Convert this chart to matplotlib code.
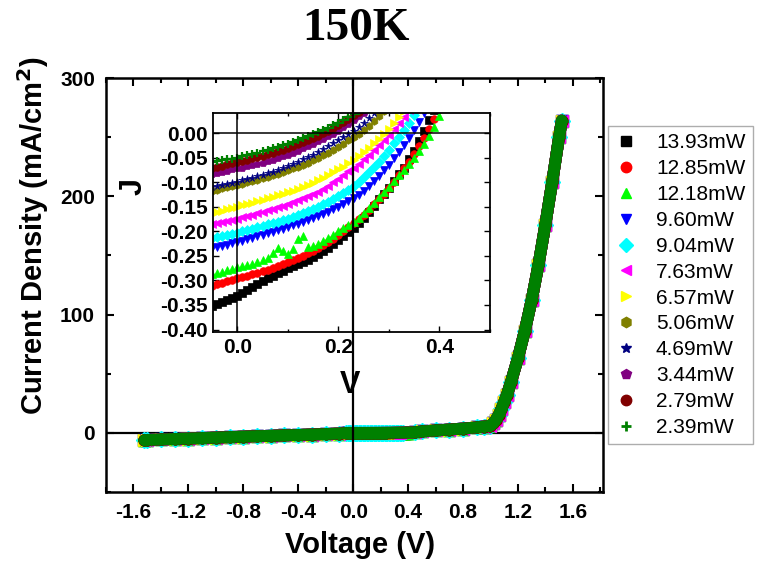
import matplotlib
matplotlib.use("Agg")
import matplotlib.pyplot as plt
from matplotlib.ticker import MultipleLocator, FormatStrFormatter
from matplotlib.lines import Line2D

plt.rcParams['font.family'] = ['Liberation Sans', 'DejaVu Sans']

# ---- series description ----
labels = ["13.93mW", "12.85mW", "12.18mW", "9.60mW", "9.04mW", "7.63mW",
          "6.57mW", "5.06mW", "4.69mW", "3.44mW", "2.79mW", "2.39mW"]
colors = ["#000000", "#FF0000", "#00FF00", "#0000FF", "#00FFFF", "#FF00FF",
          "#FFFF00", "#808000", "#000080", "#800080", "#800000", "#008000"]
markers = ["s", "o", "^", "v", "D", "<", ">", "h", "*", "p", "o", "+"]

# ---- reverse-bias branch (V, mA/cm^2), identical for all powers at this scale ----
v_reverse = [-1.52, -1.50, -1.40, -1.30, -1.20, -1.10, -1.00, -0.90, -0.80,
             -0.70, -0.60, -0.50, -0.40, -0.30, -0.20, -0.10]
j_reverse = [-6.3, -6.0, -5.6, -5.2, -4.8, -4.4, -4.0, -3.6, -3.2,
             -2.8, -2.5, -2.1, -1.8, -1.4, -1.0, -0.6]

# ---- forward-bias branch, identical for all powers at this scale ----
v_forward = [0.45, 0.50, 0.60, 0.70, 0.80, 0.90, 0.95, 1.00, 1.02, 1.04, 1.06,
             1.08, 1.10, 1.12, 1.15, 1.20, 1.25, 1.30, 1.35, 1.40, 1.45, 1.50, 1.52]
j_forward = [0.4, 1.2, 2.0, 2.8, 3.6, 4.6, 5.3, 6.0, 8.0, 11.0, 15.0,
             20.0, 26.0, 32.0, 43.0, 63.0, 86.0, 112.0, 142.0, 176.0, 212.0, 250.0, 264.0]

# ---- fourth-quadrant region, voltage sweep ----
v_near = [-0.05, -0.04, -0.03, -0.02, -0.01, 0.00, 0.01, 0.02, 0.03, 0.04,
          0.05, 0.06, 0.07, 0.08, 0.09, 0.10, 0.11, 0.12, 0.13, 0.14,
          0.15, 0.16, 0.17, 0.18, 0.19, 0.20, 0.21, 0.22, 0.23, 0.24,
          0.25, 0.26, 0.27, 0.28, 0.29, 0.30, 0.31, 0.32, 0.33, 0.34,
          0.35, 0.36, 0.37, 0.38, 0.39, 0.40, 0.41]

j_1393 = [-0.352, -0.347, -0.343, -0.339, -0.335, -0.331, -0.325, -0.319, -0.313, -0.307,
          -0.301, -0.296, -0.290, -0.285, -0.280, -0.275, -0.271, -0.267, -0.262, -0.258,
          -0.253, -0.247, -0.240, -0.233, -0.225, -0.217, -0.209, -0.201, -0.193, -0.184,
          -0.173, -0.161, -0.148, -0.135, -0.124, -0.112, -0.098, -0.084, -0.070, -0.052,
          -0.037, -0.016, 0.005, 0.026, 0.048]
j_1285 = [-0.311, -0.308, -0.305, -0.302, -0.299, -0.296, -0.293, -0.290, -0.287, -0.284,
          -0.281, -0.278, -0.275, -0.271, -0.267, -0.263, -0.259, -0.255, -0.250, -0.245,
          -0.240, -0.234, -0.228, -0.222, -0.215, -0.208, -0.200, -0.192, -0.184, -0.175,
          -0.166, -0.156, -0.145, -0.134, -0.123, -0.112, -0.099, -0.086, -0.072, -0.058,
          -0.043, -0.027, -0.010, 0.008, 0.028, 0.050]
j_1218 = [-0.287, -0.284, -0.282, -0.279, -0.276, -0.273, -0.271, -0.268, -0.266, -0.263,
          -0.259, -0.255, -0.244, -0.233, -0.240, -0.247, -0.236, -0.215, -0.209, -0.232,
          -0.230, -0.225, -0.220, -0.214, -0.207, -0.200, -0.194, -0.187, -0.180, -0.172,
          -0.163, -0.153, -0.142, -0.131, -0.120, -0.109, -0.097, -0.086, -0.075, -0.063,
          -0.050, -0.037, -0.022, -0.006, 0.013, 0.035, 0.058]
j_960 = [-0.233, -0.231, -0.229, -0.227, -0.224, -0.222, -0.219, -0.216, -0.213, -0.210,
         -0.207, -0.204, -0.201, -0.198, -0.195, -0.191, -0.188, -0.185, -0.181, -0.177,
         -0.173, -0.169, -0.165, -0.160, -0.155, -0.150, -0.145, -0.139, -0.132, -0.125,
         -0.117, -0.108, -0.098, -0.088, -0.076, -0.064, -0.051, -0.038, -0.024, -0.009,
         0.006, 0.022, 0.040, 0.060]
j_904 = [-0.213, -0.211, -0.209, -0.207, -0.205, -0.203, -0.200, -0.198, -0.195, -0.192,
         -0.189, -0.186, -0.183, -0.180, -0.177, -0.174, -0.170, -0.167, -0.163, -0.159,
         -0.155, -0.150, -0.145, -0.140, -0.134, -0.128, -0.122, -0.115, -0.107, -0.099,
         -0.090, -0.080, -0.069, -0.058, -0.046, -0.034, -0.021, -0.008, 0.006, 0.021,
         0.037, 0.054]
j_763 = [-0.185, -0.183, -0.181, -0.178, -0.176, -0.174, -0.171, -0.169, -0.166, -0.163,
         -0.160, -0.157, -0.154, -0.151, -0.148, -0.144, -0.141, -0.137, -0.133, -0.129,
         -0.124, -0.119, -0.113, -0.107, -0.100, -0.093, -0.086, -0.078, -0.070, -0.062,
         -0.053, -0.044, -0.034, -0.024, -0.014, -0.003, 0.008, 0.020, 0.033, 0.047]
j_657 = [-0.162, -0.160, -0.158, -0.155, -0.153, -0.150, -0.147, -0.145, -0.142, -0.139,
         -0.136, -0.133, -0.130, -0.127, -0.124, -0.120, -0.117, -0.113, -0.109, -0.105,
         -0.101, -0.096, -0.091, -0.086, -0.080, -0.074, -0.068, -0.061, -0.054, -0.046,
         -0.038, -0.030, -0.021, -0.012, -0.002, 0.009, 0.020, 0.032, 0.045]
j_506 = [-0.117, -0.115, -0.112, -0.110, -0.108, -0.106, -0.103, -0.100, -0.098, -0.095,
         -0.092, -0.089, -0.086, -0.083, -0.079, -0.076, -0.072, -0.068, -0.064, -0.060,
         -0.055, -0.050, -0.045, -0.040, -0.034, -0.028, -0.022, -0.015, -0.008, -0.001,
         0.007, 0.015, 0.024, 0.034, 0.045]
j_469 = [-0.110, -0.108, -0.106, -0.104, -0.101, -0.099, -0.096, -0.094, -0.091, -0.088,
         -0.085, -0.082, -0.079, -0.075, -0.071, -0.067, -0.063, -0.058, -0.053, -0.049,
         -0.044, -0.038, -0.033, -0.027, -0.021, -0.015, -0.008, -0.002, 0.005, 0.013,
         0.021, 0.030, 0.040, 0.050]
j_344 = [-0.083, -0.081, -0.079, -0.077, -0.074, -0.072, -0.070, -0.067, -0.065, -0.062,
         -0.060, -0.057, -0.054, -0.051, -0.047, -0.044, -0.040, -0.036, -0.031, -0.027,
         -0.022, -0.017, -0.012, -0.006, -0.001, 0.005, 0.012, 0.019, 0.026, 0.034,
         0.042]
j_279 = [-0.070, -0.068, -0.066, -0.063, -0.061, -0.059, -0.056, -0.054, -0.051, -0.049,
         -0.046, -0.043, -0.040, -0.037, -0.034, -0.030, -0.026, -0.022, -0.018, -0.014,
         -0.009, -0.005, 0.000, 0.005, 0.011, 0.017, 0.023, 0.029, 0.036, 0.043]
j_239 = [-0.059, -0.057, -0.055, -0.053, -0.052, -0.050, -0.047, -0.045, -0.042, -0.040,
         -0.037, -0.034, -0.031, -0.028, -0.025, -0.022, -0.018, -0.014, -0.010, -0.006,
         -0.002, 0.002, 0.006, 0.011, 0.016, 0.021, 0.027, 0.033, 0.039, 0.046]

near_sets = [j_1393, j_1285, j_1218, j_960, j_904, j_763,
             j_657, j_506, j_469, j_344, j_279, j_239]

W, H = 769, 563
fig = plt.figure(figsize=(W / 100, H / 100), dpi=100)
fig.patch.set_facecolor("white")


def frac(x0, y0, x1, y1):
    return [x0 / W, 1 - y1 / H, (x1 - x0) / W, (y1 - y0) / H]


ax = fig.add_axes(frac(106, 78, 603, 492))
ax_in = fig.add_axes(frac(213, 113, 490, 332))
ax.set_zorder(1)
ax_in.set_zorder(0)
ax.patch.set_visible(False)

curves = []
for j_near in near_sets:
    n = len(j_near)
    v_all = v_reverse + v_near[:n] + v_forward
    j_all = j_reverse + j_near + j_forward
    curves.append((v_all, j_all))

# ---- main panel ----
for (v_all, j_all), c, m in zip(curves, colors, markers):
    ax.plot(v_all, j_all, color=c, lw=8.5, marker=m, ms=8, mec=c, mfc=c,
            mew=2 if m == "+" else 1, solid_capstyle="round", zorder=2)

ax.axhline(0, color="black", lw=1.6, zorder=1)
ax.axvline(0, color="black", lw=1.6, zorder=3)
ax.set_xlim(-1.8, 1.82)
ax.set_ylim(-50, 300)
ax.xaxis.set_major_locator(MultipleLocator(0.4))
ax.xaxis.set_minor_locator(MultipleLocator(0.2))
ax.yaxis.set_major_locator(MultipleLocator(100))
ax.yaxis.set_minor_locator(MultipleLocator(50))
ax.xaxis.set_major_formatter(FormatStrFormatter("%.1f"))
ax.tick_params(which="both", direction="in", top=True, right=True, width=1.5)
ax.tick_params(which="major", length=6, labelsize=15, pad=8)
ax.tick_params(which="minor", length=3.5)
for lab in ax.get_xticklabels() + ax.get_yticklabels():
    lab.set_fontweight("bold")
for s in ax.spines.values():
    s.set_linewidth(1.8)

# ---- inset panel ----
for (v_all, j_all), c, m in zip(curves, colors, markers):
    ax_in.plot(v_all, j_all, ls="none", color=c, marker=m, ms=5.5, mec=c, mfc=c,
               mew=1.6 if m == "+" else 0.5)
ax_in.axhline(0, color="black", lw=1.1)
ax_in.axvline(0, color="black", lw=1.1)
ax_in.set_xlim(-0.048, 0.5)
ax_in.set_ylim(-0.405, 0.041)
ax_in.xaxis.set_major_locator(MultipleLocator(0.2))
ax_in.xaxis.set_minor_locator(MultipleLocator(0.1))
ax_in.yaxis.set_major_locator(MultipleLocator(0.05))
ax_in.xaxis.set_major_formatter(FormatStrFormatter("%.1f"))
ax_in.yaxis.set_major_formatter(FormatStrFormatter("%.2f"))
ax_in.tick_params(which="both", direction="in", top=True, right=True, width=1.0)
ax_in.tick_params(which="major", length=4, labelsize=15, pad=4)
ax_in.tick_params(which="minor", length=2.5)
for lab in ax_in.get_xticklabels() + ax_in.get_yticklabels():
    lab.set_fontweight("bold")
for s in ax_in.spines.values():
    s.set_linewidth(1.3)

# ---- texts ----
fig.text(356 / W, 1 - 29 / H, "150K", family="Liberation Serif", fontweight="bold",
         fontsize=34, ha="center", va="center")
fig.text(360 / W, 1 - 545 / H, "Voltage (V)", fontweight="bold", fontsize=21,
         ha="center", va="center")
fig.text(33 / W, 1 - 236 / H, "Current Density (mA/cm$^{\\mathbf{2}}$)", fontweight="bold",
         fontsize=21, ha="center", va="center", rotation=90)
fig.text(134 / W, 1 - 186 / H, "J", fontweight="bold", fontsize=22,
         ha="center", va="center", rotation=90)
fig.text(350 / W, 1 - 385 / H, "V", fontweight="bold", fontsize=22,
         ha="center", va="center")

# ---- legend ----
handles = [Line2D([], [], ls="none", marker=m, color=c, mec=c, mfc=c, ms=7.5,
                  mew=2 if m == "+" else 1) for c, m in zip(colors, markers)]
leg = fig.legend(handles, labels, loc="upper left",
                 bbox_to_anchor=(608 / W, 1 - 126 / H), frameon=True,
                 fancybox=False, edgecolor="#999999", fontsize=15,
                 handlelength=1.0, handletextpad=0.95, labelspacing=0.33,
                 borderpad=0.35, borderaxespad=0)
leg.get_frame().set_linewidth(1.0)

fig.savefig("out.png", dpi=100, facecolor="white")
